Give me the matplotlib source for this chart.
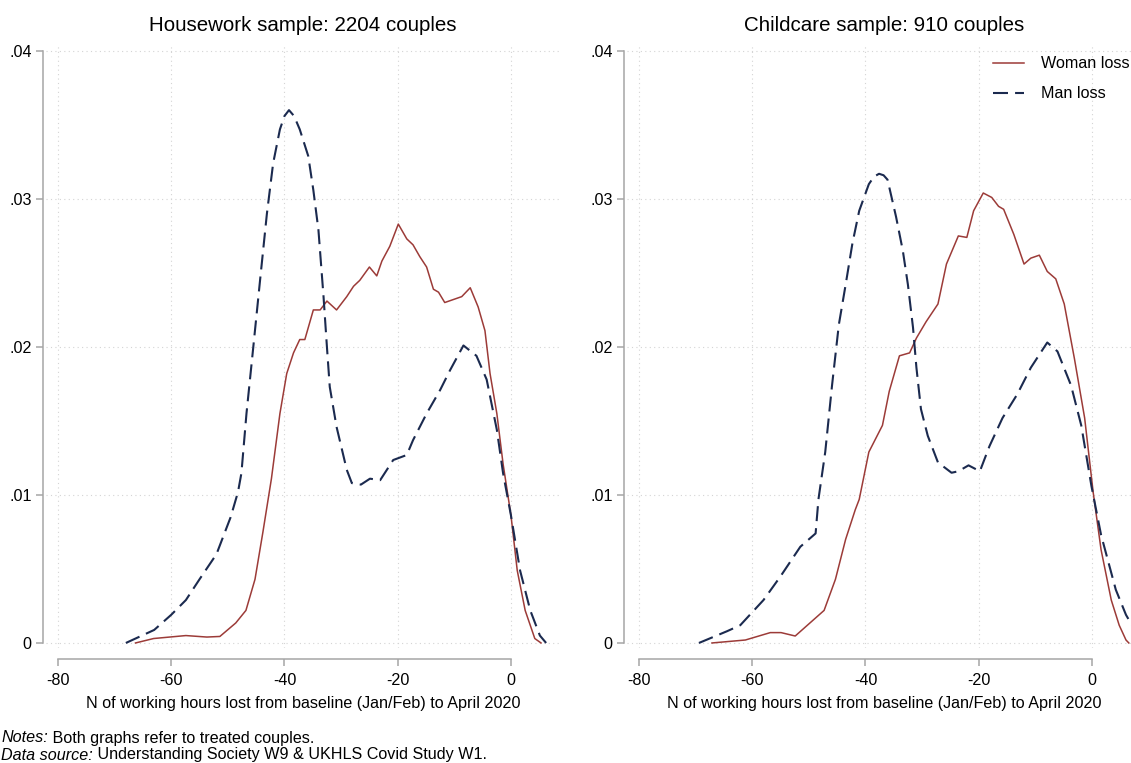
import numpy as np
import matplotlib
matplotlib.use("Agg")
import matplotlib.pyplot as plt

plt.rcParams['font.family'] = ['Liberation Sans', 'DejaVu Sans']
plt.rcParams['axes.unicode_minus'] = False

hw_woman_x = [-66.3, -63.1, -57.4, -53.7, -51.4, -48.6, -46.8, -45.2, -43.8, -42.3, -40.8, -39.6,
              -38.4, -37.3, -36.4, -34.9, -33.7, -32.5, -30.8, -29.0, -27.8, -26.7, -25.0, -23.7,
              -22.8, -21.4, -19.9, -18.4, -17.3, -16.1, -14.9, -13.7, -12.8, -11.7, -10.2, -8.7,
              -7.2, -5.8, -4.6, -3.7, -2.5, -1.4, 0.0, 1.1, 2.5, 4.2, 5.3]
hw_woman_y = [0.0, 0.0003, 0.0005, 0.0004, 0.00044, 0.00135, 0.0022, 0.0043, 0.0075, 0.0111, 0.0155, 0.0182,
              0.0196, 0.0205, 0.0205, 0.0225, 0.0225, 0.0231, 0.0225, 0.0234, 0.0241, 0.0245, 0.0254, 0.0248,
              0.0258, 0.0268, 0.0283, 0.0273, 0.0269, 0.0261, 0.0254, 0.0239, 0.0237, 0.0230, 0.0232, 0.0234,
              0.0240, 0.0227, 0.0211, 0.0182, 0.0155, 0.0121, 0.0086, 0.0049, 0.0022, 0.0003, 0.0]

hw_man_x = [-68.0, -63.0, -60.0, -57.4, -55.0, -52.0, -49.5, -48.2, -47.6, -46.7, -45.5, -44.3, -43.1,
            -42.0, -40.8, -40.0, -39.2, -38.3, -37.3, -35.8, -34.9, -34.0, -33.1, -32.5, -32.0, -30.8,
            -29.0, -28.1, -26.5, -24.9, -23.1, -20.8, -18.4, -17.3, -14.9, -12.5, -10.8, -8.4, -6.1,
            -4.3, -2.5, -1.4, 0.0, 1.6, 3.4, 5.1, 6.2]
hw_man_y = [0.0, 0.00088, 0.0019, 0.0029, 0.0043, 0.0060, 0.0085, 0.0102, 0.01147, 0.01552, 0.0200, 0.02453,
            0.0290, 0.0324, 0.0347, 0.0356, 0.0360, 0.0356, 0.0347, 0.0329, 0.0306, 0.0279, 0.0234, 0.0200,
            0.0173, 0.0146, 0.0117, 0.0108, 0.0107, 0.0111, 0.0110, 0.01236, 0.0127, 0.0137, 0.0155, 0.0171,
            0.0184, 0.0201, 0.0194, 0.0178, 0.0144, 0.01147, 0.0086, 0.0049, 0.0022, 0.0005, 0.0]

cc_woman_x = [-67.1, -61.2, -56.8, -54.9, -52.4, -47.3, -45.3, -43.5, -41.8, -41.1, -39.4, -37.0, -35.8,
              -34.0, -32.2, -31.0, -29.3, -27.2, -25.7, -23.6, -22.1, -20.9, -19.2, -17.7, -16.5, -15.6,
              -13.8, -12.0, -10.8, -9.3, -7.9, -6.4, -4.9, -3.1, -1.3, 0.2, 1.6, 3.4, 4.8, 6.0, 6.5]
cc_woman_y = [0.0, 0.0002, 0.0007, 0.0007, 0.00047, 0.0022, 0.0043, 0.0070, 0.0090, 0.0097, 0.0129, 0.0147,
              0.0170, 0.0194, 0.0196, 0.0206, 0.0217, 0.0229, 0.0256, 0.0275, 0.0274, 0.0292, 0.0304, 0.0301,
              0.0295, 0.0293, 0.0276, 0.0256, 0.0260, 0.0262, 0.0251, 0.0246, 0.0229, 0.0192, 0.0152, 0.0102,
              0.0063, 0.0029, 0.0012, 0.0002, 0.0]

cc_man_x = [-69.4, -64.4, -62.1, -58.0, -55.0, -51.5, -48.8, -48.3, -47.1, -45.9, -44.7, -43.5, -42.3,
            -41.1, -39.4, -38.5, -37.6, -36.8, -36.1, -34.6, -33.4, -32.5, -31.6, -31.0, -30.2, -29.0,
            -27.2, -24.8, -23.6, -21.8, -19.8, -18.1, -15.8, -13.2, -10.8, -7.9, -6.1, -3.7, -1.9, -0.1,
            1.6, 4.2, 6.0, 7.5]
cc_man_y = [0.0, 0.0008, 0.0012, 0.0029, 0.0045, 0.0065, 0.0074, 0.0097, 0.0129, 0.0174, 0.0215, 0.0242,
            0.0270, 0.0292, 0.0310, 0.0315, 0.0317, 0.0316, 0.0313, 0.0288, 0.0265, 0.0242, 0.0213, 0.0186,
            0.0158, 0.0140, 0.0122, 0.0115, 0.0116, 0.0120, 0.0116, 0.0133, 0.0152, 0.0168, 0.0186, 0.0203,
            0.0197, 0.0174, 0.0147, 0.0106, 0.0073, 0.0036, 0.0019, 0.0009]

panels = [
    ("Housework sample: 2204 couples", hw_woman_x, hw_woman_y, hw_man_x, hw_man_y),
    ("Childcare sample: 910 couples", cc_woman_x, cc_woman_y, cc_man_x, cc_man_y),
]

x_ticks = [-80, -60, -40, -20, 0]
y_ticks = [0, 0.01, 0.02, 0.03, 0.04]
y_ticklabels = ["0", ".01", ".02", ".03", ".04"]
xlabel = "N of working hours lost from baseline (Jan/Feb) to April 2020"

woman_col = "#9c3b38"
man_col = "#1b2a4f"
axis_col = "#a6a6a6"
fs = 11.6

W, H = 1131, 763
fig = plt.figure(figsize=(W / 100, H / 100), dpi=100)

lefts = [46, 627]
for i, (title, wx, wy, mx, my) in enumerate(panels):
    ax = fig.add_axes([lefts[i] / W, 1 - 648 / H, 514 / W, 603 / H])
    ax.plot(wx, wy, color=woman_col, lw=1.1, label="Woman loss")
    ax.plot(mx, my, color=man_col, lw=1.5, linestyle=(0, (7.2, 3.4)), label="Man loss")
    ax.set_xlim(-82.1, 8.65)
    ax.set_ylim(-0.00034, 0.0404)

    ax.set_xticks(x_ticks)
    ax.set_yticks(y_ticks)
    ax.set_yticklabels(y_ticklabels)
    ax.grid(True, color="#d4d4d4", linestyle=(0, (1, 3)), linewidth=0.8)
    ax.set_axisbelow(True)

    for s in ("top", "right"):
        ax.spines[s].set_visible(False)
    ax.spines["left"].set_position(("outward", 2.2))
    ax.spines["bottom"].set_position(("outward", 8))
    ax.spines["left"].set_bounds(0, 0.04)
    ax.spines["bottom"].set_bounds(-80, 0)
    for s in ("left", "bottom"):
        ax.spines[s].set_color(axis_col)
        ax.spines[s].set_linewidth(1.1)
    ax.tick_params(axis="both", colors=axis_col, labelcolor="black", labelsize=fs,
                   length=5, width=1.1)
    ax.tick_params(axis="y", pad=3)
    ax.tick_params(axis="x", pad=5)

    ax.set_xlabel(xlabel, fontsize=fs, labelpad=6)
    ax.set_title(title, fontsize=14.8, pad=10)

    if i == 1:
        ax.legend(loc="upper left", bbox_to_anchor=(0.712, 0.981), frameon=False,
                  fontsize=fs, handlelength=1.93, handletextpad=1.05, labelspacing=0.92,
                  borderpad=0, borderaxespad=0)

# Footnotes: italic lead-in followed by plain text
note_ax = fig.axes[0]
notes = [(738, "Notes:", " Both graphs refer to treated couples."),
         (755, "Data source:", " Understanding Society W9 & UKHLS Covid Study W1.")]
for y_px, lead, rest in notes:
    t = fig.text(1 / W, 1 - y_px / H, lead, style="italic", fontsize=fs, va="center")
    note_ax.annotate(rest, xy=(1, 0), xycoords=t, fontsize=fs, va="bottom",
                     annotation_clip=False)

fig.savefig("out.png", dpi=100)
